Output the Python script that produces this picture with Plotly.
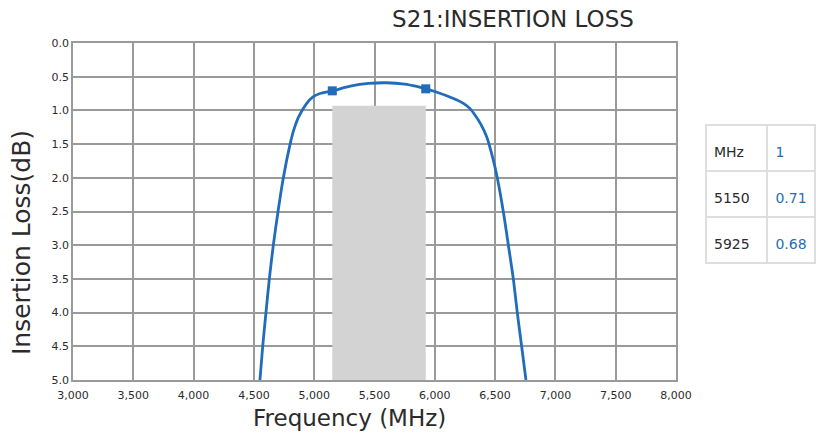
import plotly.graph_objects as go

# Curve data (frequency MHz, insertion loss dB)
freq = [4550, 4573, 4600, 4628, 4661, 4700, 4744, 4800, 4827, 4870, 4938, 4990, 5048, 5150,
        5300, 5450, 5600, 5750, 5850, 5925, 6000, 6150, 6237, 6290, 6330, 6380, 6430, 6480,
        6518, 6568, 6610, 6651, 6684, 6720, 6756]
loss = [5.0, 4.5, 4.0, 3.5, 3.0, 2.5, 2.0, 1.5, 1.31, 1.1, 0.895, 0.80, 0.75, 0.71,
        0.64, 0.60, 0.59, 0.61, 0.645, 0.68, 0.72, 0.82, 0.895, 0.97, 1.06, 1.2, 1.39, 1.7,
        2.0, 2.5, 3.0, 3.5, 4.0, 4.5, 5.0]

marker_freq = [5150, 5925]
marker_loss = [0.71, 0.68]

band_freq = [5150, 5925]
band_loss = [0.93, 5.0]

table_header = ["MHz", "1"]
table_col1 = ["5150", "5925"]
table_col2 = ["0.71", "0.68"]

x_ticks = [3000, 3500, 4000, 4500, 5000, 5500, 6000, 6500, 7000, 7500, 8000]
y_ticks = [0.0, 0.5, 1.0, 1.5, 2.0, 2.5, 3.0, 3.5, 4.0, 4.5, 5.0]

FW, FH = 816, 434


def px(p):
    return p / FW


def py(p):
    return 1 - p / FH


BLUE = "#1f6dbb"
GRID = "#9a9a9a"
FONT = "DejaVu Sans"
TXT = "#2b2b2b"

fig = go.Figure()
fig.add_trace(go.Scatter(x=freq, y=loss, mode="lines",
                         line=dict(color=BLUE, width=2.8, shape="spline", smoothing=0.8),
                         hoverinfo="skip", showlegend=False))
fig.add_trace(go.Scatter(x=marker_freq, y=marker_loss, mode="markers",
                         marker=dict(symbol="square", size=9, color=BLUE), showlegend=False))

fig.add_shape(type="rect", xref="x", yref="y", x0=band_freq[0], x1=band_freq[1],
              y0=band_loss[0], y1=band_loss[1],
              fillcolor="#d3d3d3", line=dict(width=0), layer="between")

tbl_x = [px(706), 1.0]
row_h = 46
# table borders
fig.add_trace(go.Table(
    domain=dict(x=tbl_x, y=[py(266), py(125)]),
    columnwidth=[62, 48],
    header=dict(values=["", ""], height=row_h, fill_color="white",
                line=dict(color="#dedede", width=2)),
    cells=dict(values=[["", ""], ["", ""]], height=row_h, fill_color="white",
               line=dict(color="#dedede", width=2)),
))
# table text (shifted down to centre it in the rows)
fig.add_trace(go.Table(
    domain=dict(x=tbl_x, y=[py(279), py(138)]),
    columnwidth=[62, 48],
    header=dict(values=table_header, height=row_h, align="left", fill_color="rgba(0,0,0,0)",
                line=dict(color="rgba(0,0,0,0)", width=0),
                font=dict(family=FONT, size=14, color=[TXT, BLUE])),
    cells=dict(values=[table_col1, table_col2], height=row_h, align="left",
               fill_color="rgba(0,0,0,0)", line=dict(color="rgba(0,0,0,0)", width=0),
               font=dict(family=FONT, size=14, color=[TXT, BLUE])),
))

fig.update_layout(
    width=FW, height=FH, autosize=False,
    margin=dict(l=0, r=0, t=0, b=0),
    paper_bgcolor="white", plot_bgcolor="white",
    font=dict(family=FONT, color=TXT),
    title=dict(text="S21:INSERTION LOSS", x=px(513), xanchor="center", xref="paper",
               y=py(19), yanchor="middle", yref="container", automargin=False,
               font=dict(family=FONT, size=23, color=TXT)),
    xaxis=dict(domain=[px(73), px(676)], range=[3000, 8000], tickvals=x_ticks, tickformat=",",
               automargin=False, ticklabelstandoff=4,
               showgrid=True, gridcolor=GRID, gridwidth=1.5, showline=True, linecolor=GRID, linewidth=1.5,
               mirror=True, zeroline=False, ticks="", tickfont=dict(family=FONT, size=11, color=TXT)),
    yaxis=dict(domain=[py(380), py(43)], range=[5, 0], tickvals=y_ticks, tickformat=".1f",
               automargin=False,
               showgrid=True, gridcolor=GRID, gridwidth=1.5, showline=True, linecolor=GRID, linewidth=1.5,
               mirror=True, zeroline=False, ticks="", tickfont=dict(family=FONT, size=11, color=TXT)),
    annotations=[
        dict(text="Frequency (MHz)", xref="paper", yref="paper", x=px(349), y=py(418),
             xanchor="center", yanchor="middle", showarrow=False,
             font=dict(family=FONT, size=23, color=TXT)),
        dict(text="Insertion Loss(dB)", xref="paper", yref="paper", x=px(22), y=py(243),
             xanchor="center", yanchor="middle", showarrow=False, textangle=-90,
             font=dict(family=FONT, size=25, color=TXT)),
    ],
)

fig.write_html("out.html", config={"displayModeBar": False},
               post_script="document.body.style.margin='0';document.body.style.overflow='hidden';")
